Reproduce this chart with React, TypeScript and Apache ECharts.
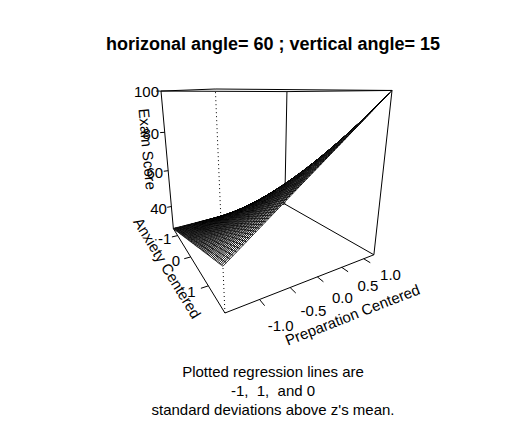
import React, { useEffect, useRef } from 'react';
import * as echarts from 'echarts';

// ranges of the three axes
const anxRange = [-1.4, 1.7];
const prepRange = [-1.5, 1.25];
// fitted regression: intercept, anxiety, preparation, anxiety x preparation
const coef = [49.58, 14.96, 9.63, 6.1];
const anxTicks = [-1, 0, 1];
const prepTicks = [-1, -0.5, 0, 0.5, 1];
const scoreTicks = [40, 60, 80, 100];
const gridN = 60;

const theta = 60;
const phi = 15;

const predict = (a: number, p: number) => coef[0] + coef[1] * a + coef[2] * p + coef[3] * a * p;

export default function App() {
  const chartRef = useRef<HTMLDivElement>(null);

  useEffect(() => {
    if (!chartRef.current) return;
    document.body.style.margin = '0';

    // surface grid
    const zs: number[][] = [];
    for (let i = 0; i <= gridN; i++) {
      const row: number[] = [];
      for (let j = 0; j <= gridN; j++) {
        const a = anxRange[0] + ((anxRange[1] - anxRange[0]) * i) / gridN;
        const p = prepRange[0] + ((prepRange[1] - prepRange[0]) * j) / gridN;
        row.push(predict(a, p));
      }
      zs.push(row);
    }
    const flat = zs.flat();
    const zRange = [Math.min(...flat), Math.max(...flat)];

    // persp-like projection
    const r = Math.sqrt(3), d = 1;
    const ct = Math.cos((-theta * Math.PI) / 180), st = Math.sin((-theta * Math.PI) / 180);
    const cp = Math.cos((phi * Math.PI) / 180), sp = Math.sin((phi * Math.PI) / 180);
    const norm = (v: number, rg: number[]) => (v - (rg[0] + rg[1]) / 2) / ((rg[1] - rg[0]) / 2);
    const proj = (a: number, p: number, z: number) => {
      const x = norm(a, anxRange), y = norm(p, prepRange), zz = norm(z, zRange);
      const x1 = x, y1 = zz, z1 = -y;
      const x2 = x1 * ct + z1 * st, y2 = y1, z2 = -x1 * st + z1 * ct;
      const y3 = y2 * cp - z2 * sp, z3 = y2 * sp + z2 * cp;
      const w = 1 - (z3 - r - d) / d;
      return { X: x2 / w, Y: y3 / w, w };
    };

    const A = anxRange, P = prepRange, Z = zRange;
    const corners: any[] = [];
    for (const a of A) for (const p of P) for (const z of Z) corners.push(proj(a, p, z));
    const xs = corners.map((c) => c.X), ys = corners.map((c) => c.Y);

    // box edges: [a1,p1,z1,a2,p2,z2,dotted]
    const edges: number[][] = [];
    const near = [A[1], P[0]];
    for (const p of P) for (const z of Z) edges.push([A[0], p, z, A[1], p, z, 0]);
    for (const a of A) for (const z of Z) edges.push([a, P[0], z, a, P[1], z, 0]);
    for (const a of A) for (const p of P)
      edges.push([a, p, Z[0], a, p, Z[1], a === near[0] && p === near[1] ? 1 : 0]);

    // surface quads, far first
    const quads: number[][] = [];
    for (let i = 0; i < gridN; i++)
      for (let j = 0; j < gridN; j++) {
        const pts = [[i, j], [i + 1, j], [i + 1, j + 1], [i, j + 1]].map(([ii, jj]) =>
          proj(
            A[0] + ((A[1] - A[0]) * ii) / gridN,
            P[0] + ((P[1] - P[0]) * jj) / gridN,
            zs[ii][jj]
          )
        );
        const w = pts.reduce((s, q) => s + q.w, 0) / 4;
        quads.push([w, ...pts.flatMap((q) => [q.X, q.Y])]);
      }
    quads.sort((u, v) => v[0] - u[0]);

    const aSpan = A[1] - A[0], pSpan = P[1] - P[0], zSpan = Z[1] - Z[0];
    const ticks: number[][] = [];
    const labels: { pos: any; text: string }[] = [];
    anxTicks.forEach((t) => {
      ticks.push([t, P[0], Z[0], t, P[0] - 0.04 * pSpan, Z[0]]);
      labels.push({ pos: proj(t, P[0] - 0.09 * pSpan, Z[0]), text: String(t) });
    });
    prepTicks.forEach((t) => {
      ticks.push([A[1], t, Z[0], A[1] + 0.05 * aSpan, t, Z[0]]);
      labels.push({ pos: proj(A[1] + 0.19 * aSpan, t, Z[0]), text: t.toFixed(1) });
    });
    scoreTicks.forEach((t) => {
      ticks.push([A[0], P[0], t, A[0], P[0] - 0.03 * pSpan, t]);
      labels.push({ pos: proj(A[0], P[0] - 0.09 * pSpan, t), text: String(t) });
    });
    const titles = [
      { text: 'Anxiety Centered', pos: proj((A[0] + A[1]) / 2, P[0] - 0.15 * pSpan, Z[0]), from: proj(A[0], P[0], Z[0]), to: proj(A[1], P[0], Z[0]) },
      { text: 'Preparation Centered', pos: proj(A[1] + 0.3 * aSpan, (P[0] + P[1]) / 2, Z[0]), from: proj(A[1], P[0], Z[0]), to: proj(A[1], P[1], Z[0]) },
      { text: 'Exam Score', pos: proj(A[0], P[0] - 0.12 * pSpan, (Z[0] + Z[1]) / 2 + 0.12 * zSpan), from: proj(A[0], P[0], Z[1]), to: proj(A[0], P[0], Z[0]) },
    ];

    const chart = echarts.init(chartRef.current, null, { renderer: 'svg' });
    const font = 'Liberation Sans, Arial, sans-serif';
    const lineItem = (api: any, v: number[], dotted: boolean) => {
      const s = proj(v[0], v[1], v[2]), e = proj(v[3], v[4], v[5]);
      const p1 = api.coord([s.X, s.Y]), p2 = api.coord([e.X, e.Y]);
      return {
        type: 'line',
        shape: { x1: p1[0], y1: p1[1], x2: p2[0], y2: p2[1] },
        style: { stroke: '#000', lineWidth: 1, lineDash: dotted ? [1, 3] : null },
      };
    };

    chart.setOption({
      animation: false,
      title: {
        text: 'horizonal angle= 60 ; vertical angle= 15',
        left: 268,
        textAlign: 'center',
        top: 30,
        textStyle: { fontSize: 18, fontWeight: 'bold', color: '#000', fontFamily: font },
      },
      grid: { left: 161, top: 89, width: 231, height: 224 },
      xAxis: { type: 'value', min: Math.min(...xs), max: Math.max(...xs), show: false },
      yAxis: { type: 'value', min: Math.min(...ys), max: Math.max(...ys), show: false },
      graphic: [
        {
          type: 'text',
          x: 273,
          y: 362,
          style: {
            text: "Plotted regression lines are\n-1,  1,  and 0\nstandard deviations above z's mean.",
            align: 'center',
            fontSize: 15,
            lineHeight: 19,
            fill: '#000',
            fontFamily: font,
          },
        },
      ],
      series: [
        {
          type: 'custom',
          silent: true,
          data: edges.map((_, i) => [i]),
          renderItem: (params: any, api: any) => {
            const e = edges[params.dataIndex];
            return lineItem(api, e, e[6] === 1);
          },
        },
        {
          type: 'custom',
          silent: true,
          data: quads.map((_, i) => [i]),
          renderItem: (params: any, api: any) => {
            const q = quads[params.dataIndex];
            const points = [0, 1, 2, 3].map((k) => api.coord([q[1 + 2 * k], q[2 + 2 * k]]));
            return {
              type: 'polygon',
              shape: { points },
              style: { fill: '#fff', stroke: '#000', lineWidth: 0.8 },
            };
          },
        },
        {
          type: 'custom',
          silent: true,
          data: ticks.map((_, i) => [i]),
          renderItem: (params: any, api: any) => lineItem(api, ticks[params.dataIndex], false),
        },
        {
          type: 'custom',
          silent: true,
          data: labels.map((_, i) => [i]),
          renderItem: (params: any, api: any) => {
            const l = labels[params.dataIndex];
            const c = api.coord([l.pos.X, l.pos.Y]);
            return {
              type: 'text',
              x: c[0],
              y: c[1],
              style: { text: l.text, fontSize: 15, fill: '#000', align: 'center', verticalAlign: 'middle', fontFamily: font },
            };
          },
        },
        {
          type: 'custom',
          silent: true,
          data: titles.map((_, i) => [i]),
          renderItem: (params: any, api: any) => {
            const t = titles[params.dataIndex];
            const c = api.coord([t.pos.X, t.pos.Y]);
            const f = api.coord([t.from.X, t.from.Y]), g = api.coord([t.to.X, t.to.Y]);
            const rot = -Math.atan2(g[1] - f[1], g[0] - f[0]);
            return {
              type: 'text',
              x: c[0],
              y: c[1],
              rotation: rot,
              style: { text: t.text, fontSize: 15, fill: '#000', align: 'center', verticalAlign: 'middle', fontFamily: font },
            };
          },
        },
      ],
    });

    return () => chart.dispose();
  }, []);

  return <div ref={chartRef} style={{ width: 515, height: 422 }} />;
}
